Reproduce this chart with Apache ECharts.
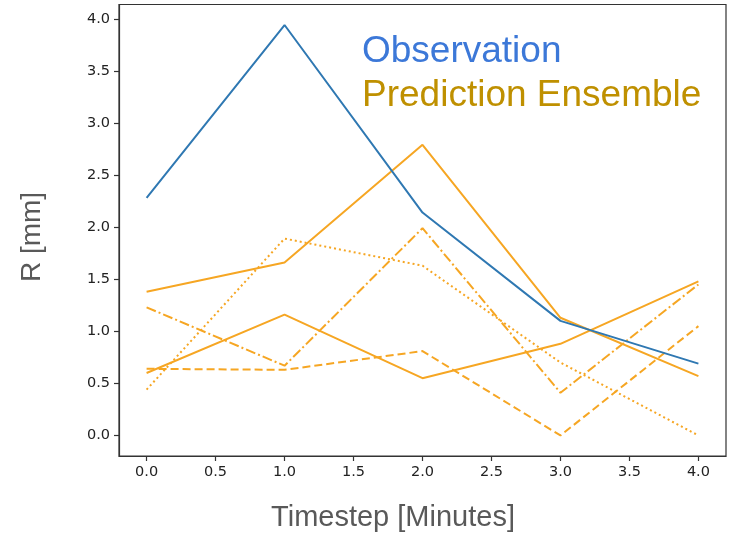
<!DOCTYPE html>
<html>
<head>
<meta charset="utf-8">
<script src="https://cdn.jsdelivr.net/npm/echarts@6/dist/echarts.min.js"></script>
<style>
html,body{margin:0;padding:0;background:#fff;}
#chart{width:734px;height:539px;}
</style>
</head>
<body>
<div id="chart"></div>
<script>
var timesteps = [0, 1, 2, 3, 4];
var observation = [2.28, 3.94, 2.14, 1.10, 0.69];
var ensSolidA = [1.38, 1.66, 2.79, 1.13, 0.57];
var ensSolidB = [0.60, 1.16, 0.55, 0.88, 1.48];
var ensDashed = [0.64, 0.63, 0.81, 0.00, 1.05];
var ensDashDot = [1.23, 0.67, 1.99, 0.41, 1.45];
var ensDotted = [0.44, 1.89, 1.63, 0.70, 0.00];
var xTicks = [0, 0.5, 1, 1.5, 2, 2.5, 3, 3.5, 4];
var yTicks = [0, 0.5, 1, 1.5, 2, 2.5, 3, 3.5, 4];
var xLabel = 'Timestep [Minutes]';
var yLabel = 'R [mm]';
var legendObs = 'Observation';
var legendPred = 'Prediction Ensemble';

function pairs(vals) { return timesteps.map(function (t, i) { return [t, vals[i]]; }); }

var ORANGE = '#f6a623';
function ens(name, vals, dash) {
  return {
    type: 'line', name: name, data: pairs(vals), symbol: 'none', z: 2,
    lineStyle: { color: ORANGE, width: 2, type: dash }
  };
}

var chart = echarts.init(document.getElementById('chart'), null, { renderer: 'canvas' });
var tickFont = { fontFamily: 'DejaVu Sans', fontSize: 14.5, color: '#222' };
chart.setOption({
  animation: false,
  backgroundColor: '#fff',
  grid: { left: 119, right: 8, top: 4.5, bottom: 83, show: true, borderColor: '#333', borderWidth: 1.2 },
  xAxis: {
    type: 'value', min: -0.2, max: 4.2,
    axisLine: { show: true, onZero: false, lineStyle: { color: '#333', width: 1.2 } },
    axisTick: { show: true, length: 5, customValues: xTicks, lineStyle: { color: '#333', width: 1.2 } },
    axisLabel: Object.assign({ customValues: xTicks, margin: 9, formatter: function (v) { return v.toFixed(1); } }, tickFont),
    splitLine: { show: false }
  },
  yAxis: {
    type: 'value', min: -0.197, max: 4.137,
    axisLine: { show: true, onZero: false, lineStyle: { color: '#333', width: 1.2 } },
    axisTick: { show: true, length: 5, customValues: yTicks, lineStyle: { color: '#333', width: 1.2 } },
    axisLabel: Object.assign({ customValues: yTicks, margin: 9, formatter: function (v) { return v.toFixed(1); } }, tickFont),
    splitLine: { show: false }
  },
  series: [
    { type: 'line', name: legendObs, data: pairs(observation), symbol: 'none', z: 3,
      lineStyle: { color: '#2f78b2', width: 2 } },
    ens('e1', ensSolidA, 'solid'),
    ens('e2', ensSolidB, 'solid'),
    ens('e3', ensDashed, [8, 4]),
    ens('e4', ensDashDot, [10, 3, 2, 3]),
    ens('e5', ensDotted, [2, 3])
  ],
  graphic: [
    { type: 'text', x: 362, y: 52, z: 10, style: { text: legendObs, fill: '#3c78d8', fontFamily: 'Liberation Sans', fontSize: 37, verticalAlign: 'middle', align: 'left' } },
    { type: 'text', x: 362, y: 96, z: 10, style: { text: legendPred, fill: '#bf9000', fontFamily: 'Liberation Sans', fontSize: 37, verticalAlign: 'middle', align: 'left' } },
    { type: 'text', x: 393, y: 518, style: { text: xLabel, fill: '#595959', fontFamily: 'Liberation Sans', fontSize: 29, verticalAlign: 'middle', align: 'center' } },
    { type: 'text', x: 32, y: 237, rotation: Math.PI / 2, style: { text: yLabel, fill: '#595959', fontFamily: 'Liberation Sans', fontSize: 28, verticalAlign: 'middle', align: 'center' } }
  ]
});
</script>
</body>
</html>
